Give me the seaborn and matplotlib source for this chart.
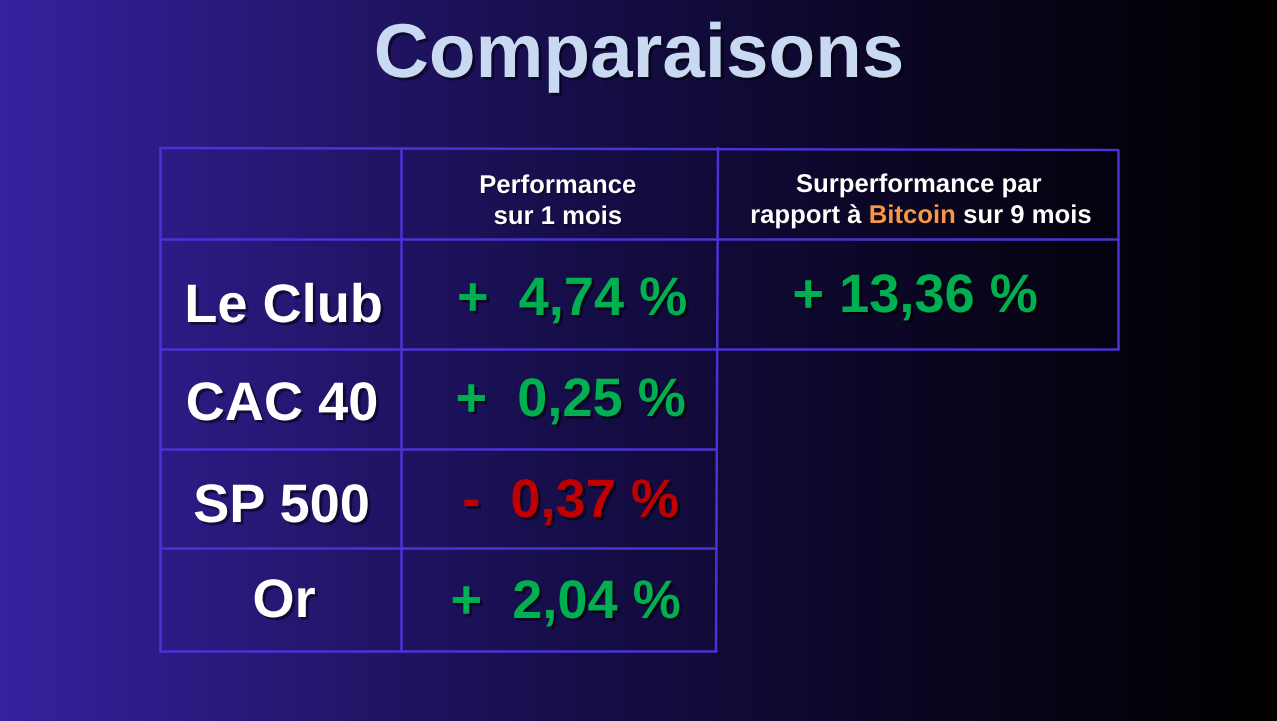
import numpy as np
import matplotlib
matplotlib.use("Agg")
import matplotlib.pyplot as plt
import matplotlib.patheffects as pe
import seaborn as sns

# ---- data ----
title = "Comparaisons"
categories = ["Le Club", "CAC 40", "SP 500", "Or"]
perf_1m = [4.74, 0.25, -0.37, 2.04]
header_perf = ["Performance", "sur 1 mois"]
header_surperf = "Surperformance par"
header_surperf_line2 = ["rapport à ", "Bitcoin", " sur 9 mois"]
surperf_9m = [13.36]

sns.set_theme(style="white")
plt.rcParams['font.family'] = ['Liberation Sans', 'DejaVu Sans']
HFONT = ['Liberation Sans', 'DejaVu Sans']

W, H = 1277, 721
fig = plt.figure(figsize=(W / 100, H / 100), dpi=100)
ax = fig.add_axes([0, 0, 1, 1])
ax.set_xlim(0, W)
ax.set_ylim(H, 0)
ax.axis("off")

# background gradient
xs = np.linspace(0, 1, 600)
left = np.array([54, 33, 158]) / 255.0
mid = np.array([22, 14, 72]) / 255.0
cols = np.zeros((1, len(xs), 3))
for i, t in enumerate(xs):
    if t < 0.45:
        u = t / 0.45
        c = left * (1 - u) + mid * u
    else:
        u = (t - 0.45) / 0.55
        c = mid * (1 - u) ** 1.1
    cols[0, i] = c
ax.imshow(cols, extent=[0, W, H, 0], aspect="auto", zorder=0)

shadow = [pe.withSimplePatchShadow(offset=(2, -2), shadow_rgbFace="black", alpha=0.5)]
light_shadow = [pe.withSimplePatchShadow(offset=(1, -1), shadow_rgbFace="black", alpha=0.4)]

# title
ax.text(639, 77, title, color="#c9d9f1", fontsize=55, fontweight="bold",
        ha="center", va="baseline", path_effects=shadow, zorder=5)

# table grid
gc = "#4a33d6"
lw = 1.8
xa, xb, xc, xd = 160, 401, 718, 1118
rows_y = [148, 239, 349, 449, 548, 651]
ax.plot([xa, xd], [rows_y[0], rows_y[0] + 2], color=gc, lw=lw, zorder=3)
ax.plot([xa, xd], [rows_y[1], rows_y[1]], color=gc, lw=lw, zorder=3)
ax.plot([xa, xd], [rows_y[2], rows_y[2]], color=gc, lw=lw, zorder=3)
for y in rows_y[3:]:
    ax.plot([xa, 716], [y, y], color=gc, lw=lw, zorder=3)
ax.plot([xa, xa], [rows_y[0], rows_y[-1]], color=gc, lw=lw, zorder=3)
ax.plot([xb, xb], [rows_y[0], rows_y[-1]], color=gc, lw=lw, zorder=3)
ax.plot([xc, 716], [rows_y[0], rows_y[-1]], color=gc, lw=lw, zorder=3)
ax.plot([xd, xd], [rows_y[0] + 2, rows_y[2]], color=gc, lw=lw, zorder=3)

# headers
hfs = 18.5
for s, yb in zip(header_perf, [193, 224]):
    ax.text(558, yb, s, color="white", fontsize=hfs, fontweight="bold",
            family=HFONT, ha="center", va="baseline", zorder=5,
            path_effects=light_shadow)
ax.text(919, 192, header_surperf, color="white", fontsize=hfs, fontweight="bold",
        family=HFONT, ha="center", va="baseline", zorder=5,
        path_effects=light_shadow)

fig.canvas.draw()
renderer = fig.canvas.get_renderer()
colors2 = ["white", "#f79646", "white"]
widths = []
for s in header_surperf_line2:
    t = ax.text(0, 100, s.replace(" ", "\u00a0"), fontsize=hfs, fontweight="bold", family=HFONT)
    bb = t.get_window_extent(renderer=renderer)
    widths.append(bb.width)
    t.remove()
total = sum(widths)
x0 = 921 - total / 2
for s, w, c in zip(header_surperf_line2, widths, colors2):
    ax.text(x0, 223, s.replace(" ", "\u00a0"), color=c, fontsize=hfs,
            fontweight="bold", family=HFONT, ha="left", va="baseline",
            zorder=5, path_effects=light_shadow)
    x0 += w

# row labels and values
label_x = [283.5, 282, 281.5, 284]
label_base = [322, 420, 522, 617]
value_x = [572, 570.5, 570.5, 565.5]
value_base = [315, 416, 517, 618]
for i, (cat, v) in enumerate(zip(categories, perf_1m)):
    ax.text(label_x[i], label_base[i], cat, color="white", fontsize=39,
            fontweight="bold", ha="center", va="baseline", zorder=5,
            path_effects=shadow)
    sign = "+" if v >= 0 else "-"
    col = "#00b050" if v >= 0 else "#c00000"
    label = f"{sign}  {abs(v):.2f} %".replace(".", ",")
    ax.text(value_x[i], value_base[i], label, color=col, fontsize=39,
            fontweight="bold", ha="center", va="baseline", zorder=5,
            path_effects=shadow)

for v in surperf_9m:
    label = f"+ {v:.2f} %".replace(".", ",")
    ax.text(915, 312, label, color="#00b050", fontsize=39,
            fontweight="bold", ha="center", va="baseline", zorder=5,
            path_effects=shadow)

fig.savefig("out.png", dpi=100)
